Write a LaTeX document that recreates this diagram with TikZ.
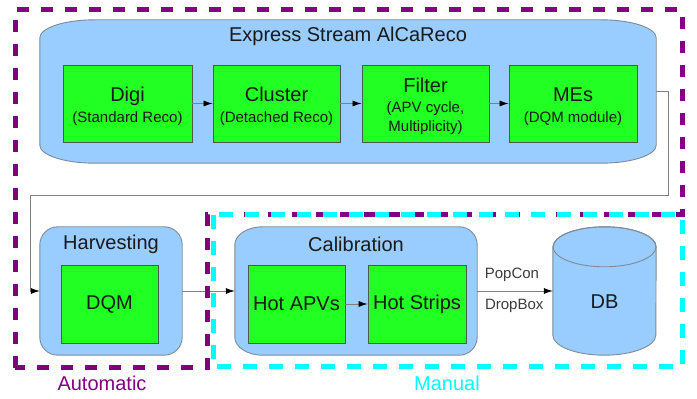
\documentclass[tikz,border=0pt]{standalone}
\usepackage{fontspec}
\setmainfont{Liberation Sans}
\usetikzlibrary{arrows.meta,calc}
\definecolor{blobfill}{HTML}{99CCFF}
\definecolor{blobline}{HTML}{7F8A99}
\definecolor{grn}{HTML}{22FF22}
\definecolor{grnline}{HTML}{4D5A4D}
\definecolor{purp}{HTML}{800080}
\definecolor{cyn}{HTML}{00FFFF}
\definecolor{txt}{HTML}{1A1A1A}
\definecolor{conn}{HTML}{808080}
\newcommand\ellblob[4]{%
 \path[blob] ($(#1.north west)+(0,-#4)$) arc[start angle=180,end angle=90,x radius=#2,y radius=#4]
  -- ($(#1.north east)+(-#3,0)$) arc[start angle=90,end angle=0,x radius=#3,y radius=#4]
  -- ($(#1.south east)+(0,#4)$) arc[start angle=0,end angle=-90,x radius=#3,y radius=#4]
  -- ($(#1.south west)+(#2,0)$) arc[start angle=-90,end angle=-180,x radius=#2,y radius=#4] -- cycle;}
\begin{document}
\begin{tikzpicture}[x=1pt,y=1pt,
  blob/.style={draw=blobline, fill=blobfill, line width=0.9pt},
  area/.style={draw=none, minimum height=128pt, inner sep=0pt},
  greenbox/.style={draw=grnline, fill=grn, line width=0.9pt, minimum width=#1, inner sep=0pt,
    align=center, text=txt, font=\fontsize{15}{21}\selectfont},
  gtext/.style={text=txt, align=center, inner sep=0pt, font=\fontsize{15}{21}\selectfont},
  big/.style={font=\fontsize{20}{22}\selectfont},
  ttl/.style={text=txt, font=\fontsize{20}{22}\selectfont, inner sep=0pt},
  conn/.style={draw=conn, line width=0.8pt, -{Latex[length=9pt,width=6pt,black]}},
  lbl/.style={text=txt!85, font=\fontsize{15}{17}\selectfont, inner sep=0pt}
]
\useasboundingbox (0,0) rectangle (697,399);
% Express stream blob
\node[draw=none, minimum width=616pt, minimum height=143pt, inner sep=0pt] (expr) at (348,307.5) {};
\ellblob{expr}{55}{55}{18}
\node[ttl] (exprT) at (348,363) {Express Stream AlCaReco};
\node[greenbox=129pt, minimum height=77pt] (digi) at (127.5,295.5) {};
\node[greenbox=127pt, minimum height=77pt] (cluster) at (276.5,295.5) {};
\node[greenbox=127pt, minimum height=77pt] (filter) at (425.5,295.5) {};
\node[greenbox=128pt, minimum height=77pt] (mes) at (573,295.5) {};
\node[gtext] (digiT) at ($(digi)+(0,-3)$)
  {{\fontsize{20}{21}\selectfont Digi}\\(Standard Reco)};
\node[gtext] (clusterT) at ($(cluster)+(0,-3)$)
  {{\fontsize{20}{21}\selectfont Cluster}\\(Detached Reco)};
\node[gtext, font=\fontsize{15}{19.5}\selectfont] (filterT) at ($(filter)+(0,-3)$)
  {{\fontsize{20}{19.5}\selectfont Filter}\\(APV cycle,\\Multiplicity)};
\node[gtext] (mesT) at ($(mes)+(0,-3)$)
  {{\fontsize{20}{21}\selectfont MEs}\\(DQM module)};
\draw[conn] (digi) -- (cluster);
\draw[conn] (cluster) -- (filter);
\draw[conn] (filter) -- (mes);
% Harvesting
\node[area, minimum width=142pt] (harv) at (111,108) {};
\ellblob{harv}{18}{18}{18}
\node[ttl] (harvT) at (111,155) {Harvesting};
\node[greenbox=97pt, minimum height=78pt, big] (dqm) at (109.5,95) {DQM};
% Calibration
\node[area, minimum width=242pt] (calib) at (356,108) {};
\ellblob{calib}{28}{18}{18}
\node[ttl] (calibT) at (356,155) {Calibration};
\node[greenbox=97pt, minimum height=78pt, big] (hapv) at (296.5,95) {Hot APVs};
\node[greenbox=98pt, minimum height=78pt, big] (hstr) at (417,95) {Hot Strips};
\draw[conn] (hapv) -- (hstr);
% DB cylinder
\node[area, minimum width=103pt] (db) at (604.5,108) {};
\path[blob] ($(db.north west)+(0,-20)$) -- ($(db.south west)+(0,20)$)
  arc[start angle=180,end angle=360,x radius=51.5,y radius=20]
  -- ($(db.north east)+(0,-20)$)
  arc[start angle=0,end angle=180,x radius=51.5,y radius=20] -- cycle;
\draw[blobline, line width=0.9pt] ($(db.north)+(0,-20)$) ellipse[x radius=51.5, y radius=20];
\node[ttl] (dbT) at (604.5,97) {DB};
% connectors
\coordinate (fb1) at (30,204);
\draw[conn] (expr.east) -- ++(12,0) |- (fb1) |- (harv.west);
\draw[conn] (harv.east) -- (calib.west);
\draw[conn] (calib.east) -- (db.west)
  node[lbl, pos=0.46, yshift=16pt] {PopCon}
  node[lbl, pos=0.49, yshift=-15pt] {DropBox};
% dashed regions
\draw[purp, line width=5pt, dash pattern=on 12pt off 12pt]
  (15,31) -- (15,389) -- (682,389) -- (682,184) -- (207,184) -- (207,31) -- cycle;
\draw[cyn, line width=5pt, dash pattern=on 14pt off 12pt]
  (213,184) rectangle (682,32);
\node[text=purp, font=\fontsize{20}{22}\selectfont, inner sep=0pt] (auto) at (102,16) {Automatic};
\node[text=cyn, font=\fontsize{20}{22}\selectfont, inner sep=0pt] (manual) at (447,16) {Manual};
\end{tikzpicture}
\end{document}
